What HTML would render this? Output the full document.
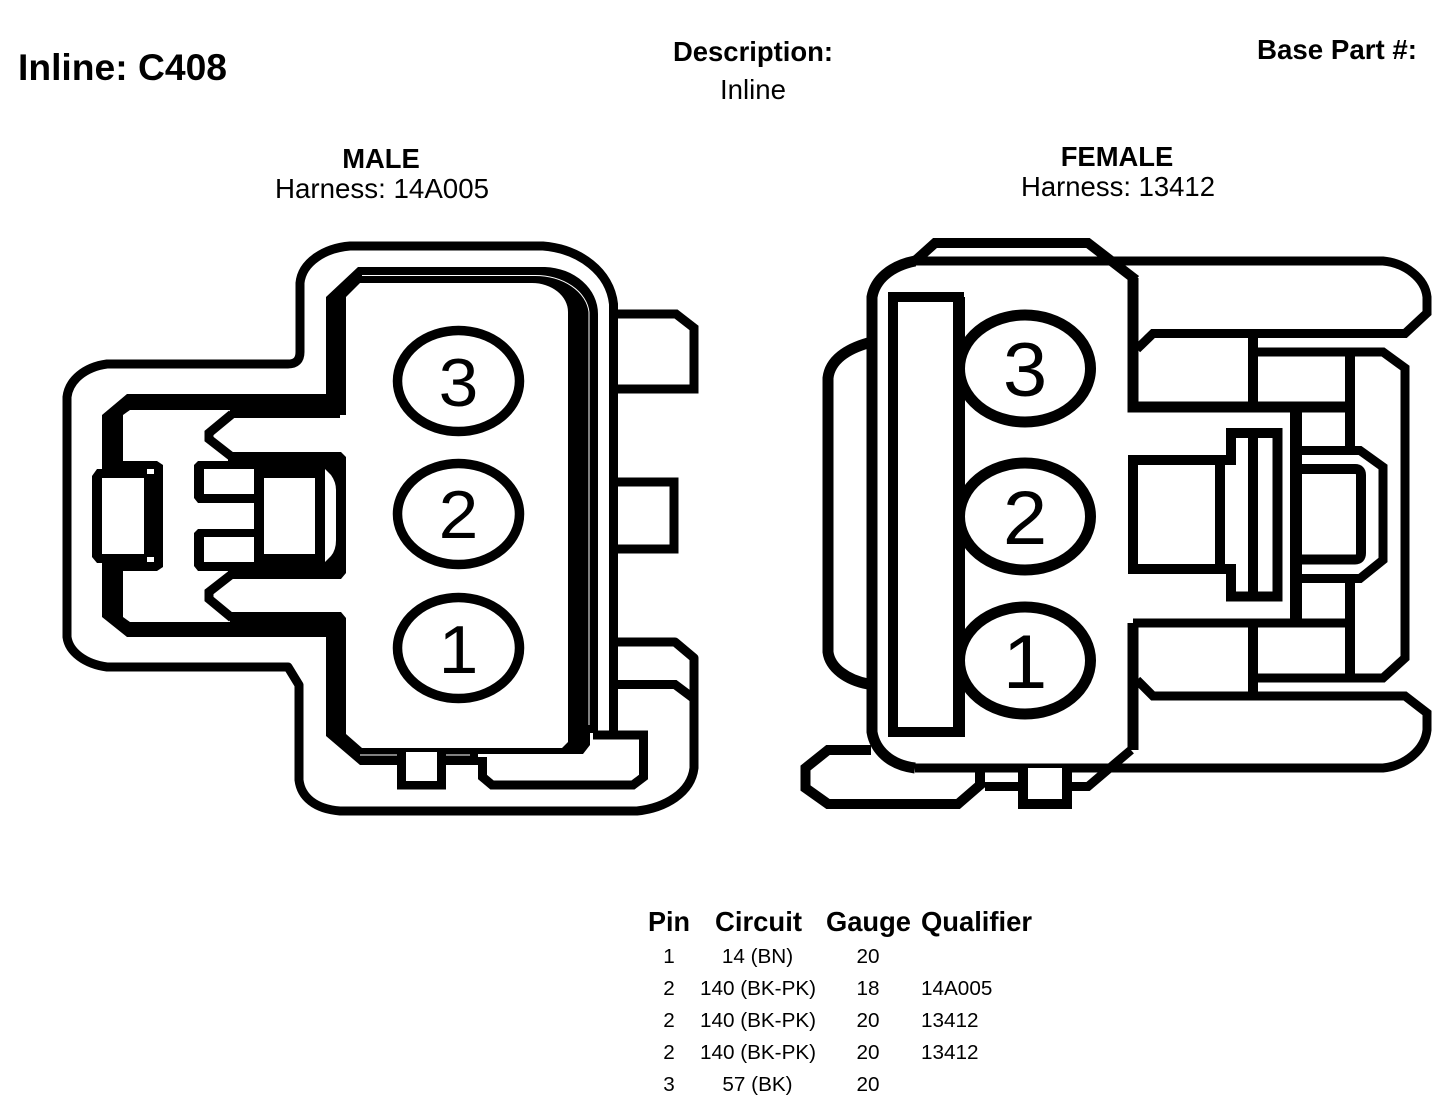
<!DOCTYPE html>
<html>
<head>
<meta charset="utf-8">
<style>
html,body{margin:0;padding:0;background:#fff;width:1456px;height:1112px;overflow:hidden}
svg{display:block}
text{font-family:"Liberation Sans",sans-serif;fill:#000}
.b{font-weight:bold}
.n{fill:none;stroke:#000;stroke-width:9}
.m{text-anchor:middle}
</style>
</head>
<body>
<svg width="1456" height="1112" viewBox="0 0 1456 1112" xmlns="http://www.w3.org/2000/svg">
<rect width="1456" height="1112" fill="#fff"/>

<!-- Headings -->
<text class="b" x="18" y="80" font-size="37" textLength="209" lengthAdjust="spacingAndGlyphs">Inline: C408</text>
<text class="b" x="673" y="61" font-size="27.4" textLength="160" lengthAdjust="spacingAndGlyphs">Description:</text>
<text x="720" y="99" font-size="27.5" textLength="66" lengthAdjust="spacingAndGlyphs">Inline</text>
<text class="b" x="1257" y="59" font-size="27.4" textLength="160" lengthAdjust="spacingAndGlyphs">Base Part #:</text>
<text class="b m" x="381" y="168" font-size="27.4">MALE</text>
<text x="275" y="198" font-size="27.4" textLength="214" lengthAdjust="spacingAndGlyphs">Harness: 14A005</text>
<text class="b m" x="1117" y="166" font-size="27.4">FEMALE</text>
<text x="1021" y="196" font-size="27.4" textLength="194" lengthAdjust="spacingAndGlyphs">Harness: 13412</text>

<!-- MALE connector -->
<path class="n" stroke-linejoin="round" d="M613.500,735 V304 C610,272 580,249 543,246 H350 C325,248 302,262 300,283 V352 Q300,364 288,364 H107 C85,367 69,380 67,397 V637 C69,652 85,664 107,667 H288 L299,685 V780 C301,797 315,809 340,811 H637 C665,808 691,793 694,768 V658 L675,642 H618"/>
<path class="n" d="M618,314 H676 L694,328 V389 H618"/>
<path class="n" d="M618,482 H674 V549 H618"/>
<path class="n" d="M618,684.500 H675 L693,698"/>

<path d="M326,415 V297 L358,267 H545 A55,47 0 0 1 598,314 V733 H590 V745 L583,754 H478 V765 H360 L326,736 V622 H346 V734 L362,748 H562 L568,742 V312 A36,29 0 0 0 532,283 H360 L346,297 V415 Z" fill="#000"/>
<path d="M362,275.500 H535 A54,40 0 0 1 589,312 V725 M360,755 H397 M446,755 H470" fill="none" stroke="#fff" stroke-width="1"/>

<path d="M102,415 L127,394 H346 V415 H340 V418 H230 V410 H130 L123,415 V461 H102 Z" fill="#000"/>
<path d="M102,571 H123 V617 L130,622 H230 V612 H341 L346,618 V637 H127 L102,617 Z" fill="#000"/>
<path class="n" d="M232,414 L209,433 V439 L232,457"/>
<path class="n" d="M232,574 L209,592 V599 L232,618"/>

<!-- male left block -->
<path d="M92,476 L97,469 H102 V461 H157 L163,465 V567 L157,571 H102 V563 H97 L92,557 Z" fill="#000"/>
<rect x="102" y="478" width="42" height="76" fill="#fff"/>
<rect x="147" y="469" width="7" height="5" fill="#fff"/>
<rect x="147" y="557" width="7" height="5" fill="#fff"/>

<!-- male centre block -->
<path d="M228,452 H341 L346,457 V573 L341,579 H228 V571 H198 L194,566 V533 L198,529 H254 V503 H198 L194,498 V465 L198,461 H228 Z" fill="#000"/>
<rect x="204" y="469" width="50" height="25" fill="#fff"/>
<rect x="204" y="537" width="50" height="25" fill="#fff"/>
<rect x="264" y="478" width="51" height="76" fill="#fff"/>
<path d="M325,469 L331,475 Q336,482 336,490 V540 Q336,550 331,556 L325,562 Z" fill="#fff"/>

<!-- male bottom tabs -->
<path d="M401.500,752 V785 H441.500 V752" fill="#fff" stroke="#000" stroke-width="9"/>
<rect x="406" y="755" width="31" height="26" fill="#fff"/>
<path class="n" d="M482.500,757 V777 L492,785 H633 L643.500,777 V735 H593" fill="#fff"/>

<!-- male pins -->
<g fill="none" stroke="#000" stroke-width="9.500">
<ellipse cx="458.500" cy="381" rx="61" ry="50.500"/>
<ellipse cx="458.500" cy="514" rx="61" ry="50.500"/>
<ellipse cx="458.500" cy="648" rx="61" ry="50.500"/>
</g>
<g font-size="68">
<text class="m" transform="translate(458.500 406) scale(1.050 1)">3</text>
<text class="m" transform="translate(458.500 538) scale(1.050 1)">2</text>
<text class="m" transform="translate(458.500 673) scale(1.050 1)">1</text>
</g>

<!-- FEMALE connector -->
<g fill="none" stroke="#000" stroke-width="9">
<path d="M915,261 H1383 C1405,263 1425,278 1427,297 V313 L1405,333.500 H1153 L1137,349"/>
<path d="M915,768 H1383 C1405,766 1425,750 1427,730 V713 L1405,696 H1153 L1137,680"/>
<path d="M915,261 L935,243 H1088 L1136,280" stroke-width="10"/>
<path d="M1133,278 V407 H1355 M1133,623 V750" stroke-width="11"/>
<path d="M1133,623 H1355" stroke-width="9"/>
<path d="M1131,750 L1088,786.500 H1072 M1018,786.500 H985" stroke-width="9"/>
<path d="M915,261 C890,266 875,280 872,297 V732 C875,750 890,765 915,768" stroke-width="11" stroke-linejoin="round"/>
<path d="M868,343 C847,349 830,360 828,378 V652 C830,668 847,680 868,684" stroke-width="11" stroke-linejoin="round"/>
<path d="M871,750 H828 L805.500,768 V788 L828,804 H958 L980,785 V772" stroke-width="10"/>
<path d="M1253,334 V406 M1253,627 V693" stroke-width="10"/>
<path d="M1253,352 H1383 L1405,368 V658 L1383,678 H1253" stroke-width="9"/>
<path d="M1350,352 V450 M1350,580 V678" stroke-width="10"/>
<path d="M1296,406 V623" stroke-width="12"/>
<path d="M1299,450.500 H1360 L1383,467 V560 L1360,578.500 H1299" stroke-width="9"/>
<path d="M1299,469 H1355 Q1361,469 1361,475 V553 Q1361,559.500 1355,559.500 H1299" stroke-width="10"/>
<path d="M1225,460 H1133 V569 H1225" stroke-width="10"/>
<path d="M1220,465 V564" stroke-width="10"/>
<path d="M1225,460 H1231 V433 H1277.500 V596.500 H1231 V569 H1225" stroke-width="10"/>
<path d="M1253,433 V597" stroke-width="10"/>
</g>
<path d="M1023,768 V804 H1067 V768" fill="#fff" stroke="#000" stroke-width="10"/>

<!-- female pins -->
<g fill="none" stroke="#000" stroke-width="11">
<ellipse cx="1025" cy="368.500" rx="65.500" ry="53.500"/>
<ellipse cx="1025" cy="516.500" rx="65.500" ry="53.500"/>
<ellipse cx="1025" cy="660.500" rx="65.500" ry="53.500"/>
</g>
<rect x="893" y="297" width="66" height="435" fill="#fff" stroke="#000" stroke-width="10"/>
<rect x="953" y="297" width="12" height="440" fill="#000"/>
<g font-size="76">
<text class="m" transform="translate(1025 396) scale(1.050 1)">3</text>
<text class="m" transform="translate(1025 544) scale(1.050 1)">2</text>
<text class="m" transform="translate(1025 688) scale(1.050 1)">1</text>
</g>

<!-- Table -->
<g font-size="27.400" class="b">
<text class="b" x="648" y="931" textLength="42" lengthAdjust="spacingAndGlyphs">Pin</text>
<text class="b" x="715" y="931" textLength="87" lengthAdjust="spacingAndGlyphs">Circuit</text>
<text class="b" x="826" y="931" textLength="85" lengthAdjust="spacingAndGlyphs">Gauge</text>
<text class="b" x="921" y="931" textLength="111" lengthAdjust="spacingAndGlyphs">Qualifier</text>
</g>
<g font-size="20.700">
<text class="m" x="669" y="963">1</text><text class="m" x="757.500" y="963">14 (BN)</text><text class="m" x="868" y="963">20</text>
<text class="m" x="669" y="995">2</text><text class="m" x="758" y="995">140 (BK-PK)</text><text class="m" x="868" y="995">18</text><text x="921" y="995">14A005</text>
<text class="m" x="669" y="1027">2</text><text class="m" x="758" y="1027">140 (BK-PK)</text><text class="m" x="868" y="1027">20</text><text x="921" y="1027">13412</text>
<text class="m" x="669" y="1059">2</text><text class="m" x="758" y="1059">140 (BK-PK)</text><text class="m" x="868" y="1059">20</text><text x="921" y="1059">13412</text>
<text class="m" x="669" y="1091">3</text><text class="m" x="757.500" y="1091">57 (BK)</text><text class="m" x="868" y="1091">20</text>
</g>
</svg>
</body>
</html>
